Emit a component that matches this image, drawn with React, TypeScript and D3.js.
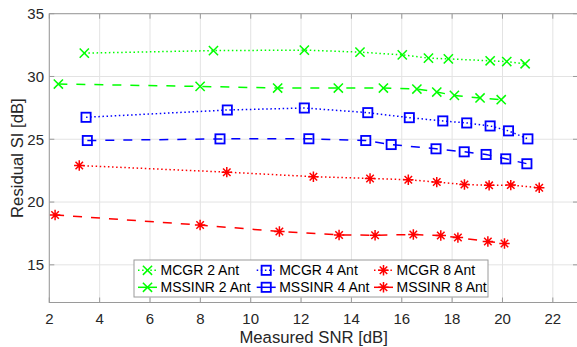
import React from "react";
import * as d3 from "d3";

// Measured SNR (x) and residual self-interference (y) per scheme / antenna count
const mcgr2X = [3.39, 8.52, 12.13, 14.34, 16.02, 17.06, 17.85, 19.51, 20.17, 20.9];
const mcgr2Y = [31.86, 32.06, 32.1, 31.94, 31.72, 31.46, 31.4, 31.25, 31.19, 31.01];
const mssinr2X = [2.36, 7.99, 11.07, 13.48, 15.27, 16.6, 17.39, 18.09, 19.11, 19.95];
const mssinr2Y = [29.4, 29.21, 29.08, 29.08, 29.08, 29.0, 28.76, 28.49, 28.29, 28.15];
const mcgr4X = [3.46, 9.07, 12.13, 14.65, 16.3, 17.63, 18.58, 19.51, 20.24, 21.01];
const mcgr4Y = [26.75, 27.33, 27.49, 27.12, 26.72, 26.46, 26.3, 26.06, 25.67, 25.03];
const mssinr4X = [3.51, 8.78, 12.31, 14.57, 15.58, 17.36, 18.48, 19.35, 20.13, 20.97];
const mssinr4Y = [24.9, 25.03, 25.04, 24.9, 24.58, 24.24, 24.0, 23.79, 23.44, 23.05];
const mcgr8X = [3.19, 9.05, 12.49, 14.74, 16.26, 17.39, 18.49, 19.47, 20.33, 21.46];
const mcgr8Y = [22.91, 22.38, 22.02, 21.88, 21.78, 21.59, 21.4, 21.33, 21.35, 21.14];
const mssinr8X = [2.23, 7.99, 11.14, 13.51, 14.94, 16.46, 17.55, 18.23, 19.42, 20.08];
const mssinr8Y = [18.97, 18.17, 17.65, 17.38, 17.36, 17.41, 17.33, 17.17, 16.86, 16.7];

const xTicks = [2, 4, 6, 8, 10, 12, 14, 16, 18, 20, 22];
const yTicks = [15, 20, 25, 30, 35];

type Marker = "x" | "square" | "star";
type Series = { name: string; xs: number[]; ys: number[]; color: string; dash: string; marker: Marker };

const DOTTED = "1.5,2.6";
const DASHED = "9,9";

const series: Series[] = [
  { name: "MCGR 2 Ant", xs: mcgr2X, ys: mcgr2Y, color: "#00ff00", dash: DOTTED, marker: "x" },
  { name: "MSSINR 2 Ant", xs: mssinr2X, ys: mssinr2Y, color: "#00ff00", dash: DASHED, marker: "x" },
  { name: "MCGR 4 Ant", xs: mcgr4X, ys: mcgr4Y, color: "#0000ff", dash: DOTTED, marker: "square" },
  { name: "MSSINR 4 Ant", xs: mssinr4X, ys: mssinr4Y, color: "#0000ff", dash: DASHED, marker: "square" },
  { name: "MCGR 8 Ant", xs: mcgr8X, ys: mcgr8Y, color: "#ff0000", dash: DOTTED, marker: "star" },
  { name: "MSSINR 8 Ant", xs: mssinr8X, ys: mssinr8Y, color: "#ff0000", dash: DASHED, marker: "star" },
];

const W = 577;
const H = 347;
const left = 49.3;
const right = 578;
const top = 13.7;
const bottom = 302.5;

const x = d3.scaleLinear().domain([2, 23]).range([left, right]);
const y = d3.scaleLinear().domain([12, 35]).range([bottom, top]);

const FONT = "'Liberation Sans', Arial, Helvetica, sans-serif";
const AXIS = "#9a9a9a";
const TEXT = "#262626";

function MarkerShape({ kind, cx, cy, color }: { kind: Marker; cx: number; cy: number; color: string }) {
  if (kind === "square") {
    const s = 4.6;
    return <rect x={cx - s} y={cy - s} width={2 * s} height={2 * s} fill="none" stroke={color} strokeWidth={1.8} />;
  }
  if (kind === "x") {
    const s = 4.6;
    return (
      <path
        d={`M${cx - s},${cy - s}L${cx + s},${cy + s}M${cx - s},${cy + s}L${cx + s},${cy - s}`}
        stroke={color}
        strokeWidth={1.5}
        fill="none"
      />
    );
  }
  const s = 5.2;
  const d = s * 0.72;
  return (
    <path
      d={`M${cx},${cy - s}L${cx},${cy + s}M${cx - s},${cy}L${cx + s},${cy}M${cx - d},${cy - d}L${cx + d},${cy + d}M${cx - d},${cy + d}L${cx + d},${cy - d}`}
      stroke={color}
      strokeWidth={1.5}
      fill="none"
    />
  );
}

export default function App() {
  const line = d3
    .line<[number, number]>()
    .x((d) => x(d[0]))
    .y((d) => y(d[1]));

  const tickLen = 5;

  // legend layout: 3 columns x 2 rows, column-major order
  const legendBox = { x: 134, y: 260, w: 354, h: 37 };
  const colX = [138, 256.7, 374];
  const rowY = [270.3, 287.3];

  return (
    <svg
      width={W}
      height={H}
      style={{ position: "absolute", left: 0, top: 0, background: "#fff" }}
      fontFamily={FONT}
    >
      <rect x={0} y={0} width={W} height={H} fill="#fff" />
      {/* grid */}
      {xTicks.map((t) => (
        <line key={"gx" + t} x1={x(t)} x2={x(t)} y1={top} y2={bottom} stroke="#e3e3e3" strokeWidth={1} />
      ))}
      {yTicks.map((t) => (
        <line key={"gy" + t} x1={left} x2={right} y1={y(t)} y2={y(t)} stroke="#e3e3e3" strokeWidth={1} />
      ))}

      {/* axes box */}
      <rect x={left} y={top} width={right - left} height={bottom - top} fill="none" stroke={AXIS} strokeWidth={1} />
      {xTicks.map((t) => (
        <g key={"tx" + t}>
          <line x1={x(t)} x2={x(t)} y1={bottom} y2={bottom - tickLen} stroke={AXIS} />
          <line x1={x(t)} x2={x(t)} y1={top} y2={top + tickLen} stroke={AXIS} />
          <text x={x(t)} y={323.5} textAnchor="middle" fontSize={15} fill={TEXT}>
            {t}
          </text>
        </g>
      ))}
      {yTicks.map((t) => (
        <g key={"ty" + t}>
          <line x1={left} x2={left + tickLen} y1={y(t)} y2={y(t)} stroke={AXIS} />
          <line x1={right} x2={right - tickLen} y1={y(t)} y2={y(t)} stroke={AXIS} />
          <text x={44} y={y(t)} dy="0.36em" textAnchor="end" fontSize={15} fill={TEXT}>
            {t}
          </text>
        </g>
      ))}

      {/* axis labels */}
      <text x={(left + right) / 2} y={342.5} textAnchor="middle" fontSize={16.7} fill={TEXT}>
        Measured SNR [dB]
      </text>
      <text
        transform={`translate(22.5,${(top + bottom) / 2}) rotate(-90)`}
        textAnchor="middle"
        fontSize={16.7}
        fill={TEXT}
      >
        Residual SI [dB]
      </text>

      {/* series */}
      {series.map((s) => {
        const pts = s.xs.map((v, i) => [v, s.ys[i]] as [number, number]);
        return (
          <g key={s.name}>
            <path d={line(pts) || ""} fill="none" stroke={s.color} strokeWidth={1.5} strokeDasharray={s.dash} />
            {pts.map((p, i) => (
              <MarkerShape key={i} kind={s.marker} cx={x(p[0])} cy={y(p[1])} color={s.color} />
            ))}
          </g>
        );
      })}

      {/* legend */}
      <rect
        x={legendBox.x}
        y={legendBox.y}
        width={legendBox.w}
        height={legendBox.h}
        fill="#fff"
        stroke={AXIS}
        strokeWidth={1}
      />
      {series.map((s, i) => {
        const col = Math.floor(i / 2);
        const row = i % 2;
        const lx = colX[col];
        const ly = rowY[row];
        return (
          <g key={"lg" + s.name}>
            <line x1={lx} x2={lx + 19} y1={ly} y2={ly} stroke={s.color} strokeWidth={1.5} strokeDasharray={s.dash === DASHED ? "none" : s.dash} />
            <MarkerShape kind={s.marker} cx={lx + 9.5} cy={ly} color={s.color} />
            <text x={lx + 22.5} y={ly} dy="0.36em" fontSize={14} fill="#000">
              {s.name}
            </text>
          </g>
        );
      })}
    </svg>
  );
}
